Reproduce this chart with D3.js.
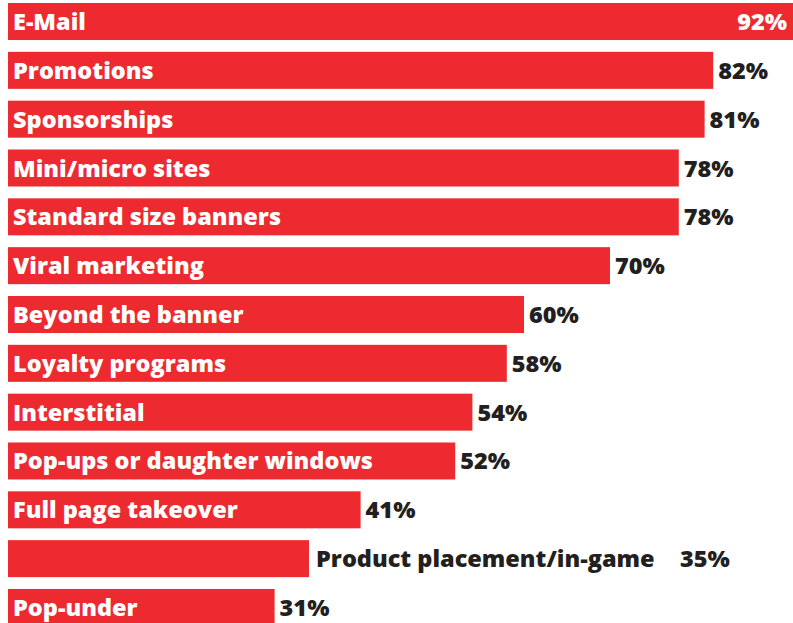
<!DOCTYPE html>
<html>
<head>
<meta charset="utf-8">
<script src="https://cdn.jsdelivr.net/npm/d3@7"></script>
<style>
  html, body { margin: 0; padding: 0; background: #fff; }
  svg { display: block; }
  text { font-family: "Open Sans", sans-serif; font-weight: 800; }
</style>
</head>
<body>
<svg id="chart" width="793" height="623"></svg>
<script>
const categories = [
  "E-Mail", "Promotions", "Sponsorships", "Mini/micro sites",
  "Standard size banners", "Viral marketing", "Beyond the banner",
  "Loyalty programs", "Interstitial", "Pop-ups or daughter windows",
  "Full page takeover", "Product placement/in-game", "Pop-under"
];
const values = [92, 82, 81, 78, 78, 70, 60, 58, 54, 52, 41, 35, 31];

const W = 793, H = 623;
const red = "#ec2a2f", ink = "#231f20";
const fs = 23.5;

const svg = d3.select("#chart");

const x = d3.scaleLinear().domain([0, 100]).range([8, 868]);
const y = d3.scaleBand()
  .domain(categories)
  .range([3 - 5.9, 3 - 5.9 + 48.83 * categories.length])
  .paddingInner(11.83 / 48.83)
  .paddingOuter(11.83 / 48.83 / 2);

const rows = svg.selectAll("g.row")
  .data(categories.map((c, i) => ({ c, v: values[i] })))
  .join("g")
  .attr("class", "row");

rows.append("rect")
  .attr("x", x(0))
  .attr("y", d => y(d.c))
  .attr("width", d => Math.min(x(d.v), W) - x(0))
  .attr("height", y.bandwidth())
  .attr("fill", red);

// category name: inside the bar in white, except when it does not fit
rows.each(function (d) {
  const g = d3.select(this);
  const cy = y(d.c) + y.bandwidth() / 2 + 8.5;
  const barEnd = Math.min(x(d.v), W);
  const name = g.append("text")
    .attr("x", 13)
    .attr("y", cy)
    .attr("font-size", fs)
    .attr("fill", "#fff")
    .text(d.c);
  const nw = name.node().getComputedTextLength();
  if (13 + nw + 4 > barEnd) {
    // name sits outside the bar, followed by the value
    name.attr("x", barEnd + 7).attr("fill", ink);
    g.append("text")
      .attr("x", 680)
      .attr("y", cy)
      .attr("font-size", fs)
      .attr("fill", ink)
      .text(d.v + "%");
  } else if (x(d.v) > W) {
    g.append("text")
      .attr("x", W - 6)
      .attr("y", cy)
      .attr("text-anchor", "end")
      .attr("font-size", fs)
      .attr("fill", "#fff")
      .text(d.v + "%");
  } else {
    g.append("text")
      .attr("x", barEnd + 5)
      .attr("y", cy)
      .attr("font-size", fs)
      .attr("fill", ink)
      .text(d.v + "%");
  }
});
</script>
</body>
</html>
